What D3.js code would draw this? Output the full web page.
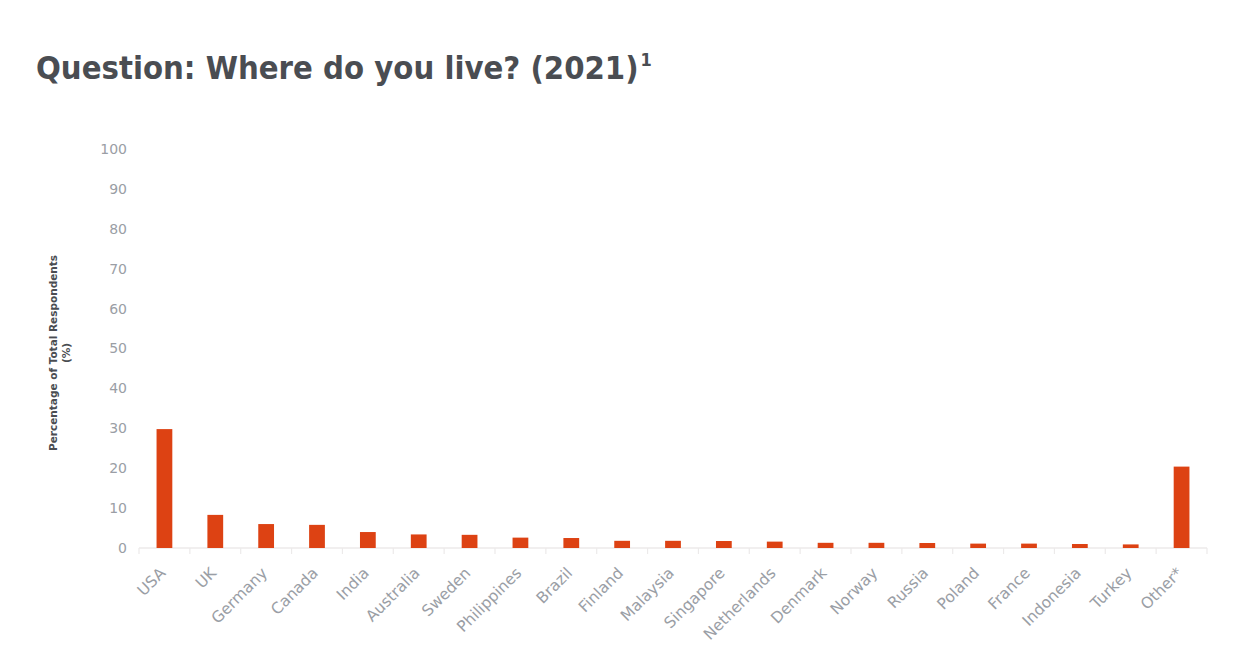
<!DOCTYPE html>
<html>
<head>
<meta charset="utf-8">
<script src="https://cdn.jsdelivr.net/npm/d3@7"></script>
<style>
  body { margin: 0; background: #fff; }
  svg { display: block; }
</style>
</head>
<body>
<div id="chart"></div>
<script>
// data
const countries = ["USA", "UK", "Germany", "Canada", "India", "Australia", "Sweden",
    "Philippines", "Brazil", "Finland", "Malaysia", "Singapore", "Netherlands",
    "Denmark", "Norway", "Russia", "Poland", "France", "Indonesia", "Turkey", "Other*"];
const percentages = [29.8, 8.3, 6.0, 5.8, 4.0, 3.4, 3.3, 2.6, 2.5, 1.8, 1.8, 1.75, 1.6,
    1.3, 1.3, 1.25, 1.1, 1.1, 1.0, 0.9, 20.4];
const yTicks = [0, 10, 20, 30, 40, 50, 60, 70, 80, 90, 100];

const data = countries.map((c, i) => ({ country: c, value: percentages[i] }));

var width = 1242, height = 646;
var margin = { top: 149, right: 35, bottom: 98, left: 139 };
var innerW = width - margin.left - margin.right,
    innerH = height - margin.top - margin.bottom;

var svg = d3.select("#chart")
    .append("svg")
    .attr("width", width)
    .attr("height", height)
    .style("font-family", "'DejaVu Sans', Verdana, sans-serif");

// title
var title = svg.append("text")
    .attr("x", 36)
    .attr("y", 79)
    .attr("fill", "#4a4d52")
    .style("font-family", "'DejaVu Sans Condensed', 'DejaVu Sans', sans-serif")
    .style("font-size", "32.5px")
    .style("font-weight", "bold")
    .text("Question: Where do you live? (2021)");
title.append("tspan")
    .attr("dy", -13)
    .attr("dx", 2)
    .style("font-size", "18px")
    .text("1");

var g = svg.append("g")
    .attr("transform", "translate(" + margin.left + "," + margin.top + ")");

var x = d3.scaleBand()
    .domain(countries)
    .range([0, innerW])
    .paddingInner(0.69)
    .paddingOuter(0.345);

var y = d3.scaleLinear()
    .domain([0, 100])
    .range([innerH, 0]);

// y axis: labels only
var yAxis = g.append("g")
    .call(d3.axisLeft(y).tickValues(yTicks).tickSize(0).tickPadding(12));
yAxis.select(".domain").remove();
yAxis.selectAll("text")
    .attr("fill", "#9a9ea5")
    .style("font-size", "14px")
    .style("font-family", "'DejaVu Sans', Verdana, sans-serif");

// x axis baseline with light ticks between bars
g.append("line")
    .attr("x1", 0).attr("x2", innerW)
    .attr("y1", y(0)).attr("y2", y(0))
    .attr("stroke", "#eceaea")
    .attr("stroke-width", 1.5);
g.selectAll(".sep")
    .data(d3.range(countries.length + 1))
    .enter().append("line")
    .attr("class", "sep")
    .attr("x1", d => d * x.step())
    .attr("x2", d => d * x.step())
    .attr("y1", y(0))
    .attr("y2", y(0) + 6)
    .attr("stroke", "#eceaea")
    .attr("stroke-width", 1.2);

// bars
g.selectAll("rect.bar")
    .data(data)
    .enter().append("rect")
    .attr("class", "bar")
    .attr("x", d => x(d.country))
    .attr("y", d => y(d.value))
    .attr("width", x.bandwidth())
    .attr("height", d => y(0) - y(d.value))
    .attr("fill", "#dd4213");

// x labels, rotated
g.selectAll("text.xlab")
    .data(countries)
    .enter().append("text")
    .attr("class", "xlab")
    .attr("text-anchor", "end")
    .attr("transform", d => "translate(" + (x(d) + x.bandwidth() / 2 + 2) + "," + (y(0) + 26) + ") rotate(-45)")
    .attr("fill", "#9a9ea5")
    .style("font-size", "15.5px")
    .text(d => d);

// y axis title
var yt = svg.append("text")
    .attr("transform", "translate(57,353) rotate(-90)")
    .attr("text-anchor", "middle")
    .attr("fill", "#4a4d52")
    .style("font-size", "10.5px")
    .style("font-weight", "bold");
yt.append("tspan").attr("x", 0).attr("dy", 0).text("Percentage of Total Respondents");
yt.append("tspan").attr("x", 0).attr("dy", 13).text("(%)");
</script>
</body>
</html>
